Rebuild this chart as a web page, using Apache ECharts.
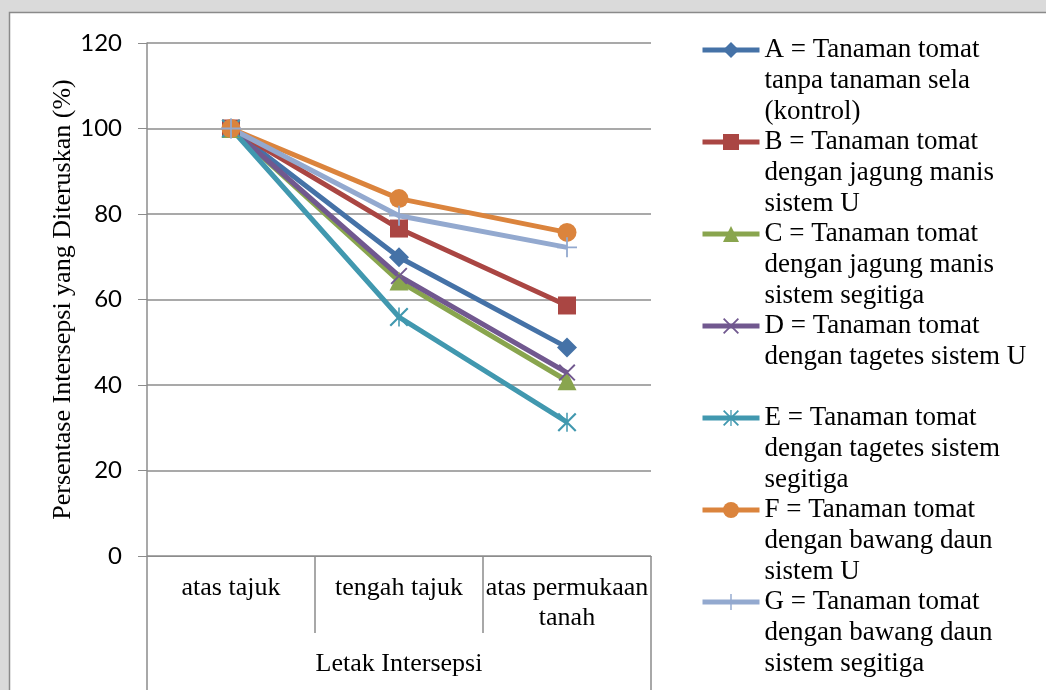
<!DOCTYPE html>
<html>
<head>
<meta charset="utf-8">
<script src="https://cdn.jsdelivr.net/npm/echarts@6/dist/echarts.min.js"></script>
<style>
html,body{margin:0;padding:0;background:#dadada;}
#chart{width:1046px;height:690px;}
</style>
</head>
<body>
<div id="chart"></div>
<script>
const categories = ['atas tajuk', 'tengah tajuk', 'atas permukaan\ntanah'];
const groupCategory = ['Letak Intersepsi'];
const yTicks = { min: 0, max: 120, interval: 20 };

const seriesKeys = ['A', 'B', 'C', 'D', 'E', 'F', 'G'];
const legendLabels = [
  'A = Tanaman tomat\ntanpa tanaman sela\n(kontrol)',
  'B = Tanaman tomat\ndengan jagung manis\nsistem U',
  'C = Tanaman tomat\ndengan jagung manis\nsistem segitiga',
  'D = Tanaman tomat\ndengan tagetes sistem U\n ',
  'E = Tanaman tomat\ndengan tagetes sistem\nsegitiga',
  'F = Tanaman tomat\ndengan bawang daun\nsistem U',
  'G = Tanaman tomat\ndengan bawang daun\nsistem segitiga'
];

const valuesA = [100, 69.9, 48.8];
const valuesB = [100, 76.6, 58.6];
const valuesC = [100, 64.3, 41.0];
const valuesD = [100, 65.5, 42.9];
const valuesE = [100, 55.9, 31.3];
const valuesF = [100, 83.6, 75.7];
const valuesG = [100, 79.6, 72.2];

const colors = ['#4572A7', '#AA4643', '#89A54E', '#71588F', '#4198AF', '#DB843D', '#93A9CF'];

const xPath = 'path://M0,1.6 L1.6,0 L10,8.4 L18.4,0 L20,1.6 L11.6,10 L20,18.4 L18.4,20 L10,11.6 L1.6,20 L0,18.4 L8.4,10 Z';
const starPath = 'path://M0,1.6 L1.6,0 L10,8.4 L18.4,0 L20,1.6 L11.6,10 L20,18.4 L18.4,20 L10,11.6 L1.6,20 L0,18.4 L8.4,10 Z M9.2,0 L10.8,0 L10.8,20 L9.2,20 Z';
const plusPath = 'path://M9.1,0 L10.9,0 L10.9,9.1 L20,9.1 L20,10.9 L10.9,10.9 L10.9,20 L9.1,20 L9.1,10.9 L0,10.9 L0,9.1 L9.1,9.1 Z';

const symbols = ['diamond', 'rect', 'triangle', xPath, starPath, 'circle', plusPath];
const symbolSizes = [20, 18, 19, 17, 19, 19, 20];
const allValues = [valuesA, valuesB, valuesC, valuesD, valuesE, valuesF, valuesG];

const serif = 'Liberation Serif';
const gridColor = '#8c8c8c';

const chart = echarts.init(document.getElementById('chart'), null, { renderer: 'canvas' });

const series = seriesKeys.map((k, i) => ({
  name: k,
  type: 'line',
  data: allValues[i],
  symbol: symbols[i],
  symbolSize: symbolSizes[i],
  showAllSymbol: true,
  color: colors[i],
  lineStyle: { width: 5, color: colors[i] },
  itemStyle: { color: colors[i], borderWidth: 0 },
  emphasis: { disabled: true },
  xAxisIndex: 0,
  yAxisIndex: 0
}));

chart.setOption({
  backgroundColor: '#dadada',
  animation: false,
  graphic: [{
    type: 'rect',
    z: -100,
    silent: true,
    shape: { x: 9.5, y: 12.5, width: 1100, height: 1000 },
    style: { fill: '#ffffff', stroke: '#8a8a8a', lineWidth: 1.5 }
  }],
  grid: { left: 147, top: 43, right: 395, bottom: 134, containLabel: false },
  legend: {
    orient: 'vertical',
    left: 700,
    top: -27.5,
    height: 1200,
    padding: 0,
    itemWidth: 57,
    itemHeight: 20,
    itemGap: -63,
    selectedMode: false,
    data: seriesKeys,
    lineStyle: { width: 5 },
    formatter: function (name) { return ' \n \n' + legendLabels[seriesKeys.indexOf(name)]; },
    textStyle: {
      fontFamily: serif,
      fontSize: 27,
      lineHeight: 31,
      color: '#000'
    }
  },
  xAxis: [{
    type: 'category',
    data: categories,
    position: 'bottom',
    boundaryGap: true,
    axisLine: { show: true, lineStyle: { color: gridColor, width: 1 } },
    axisTick: { show: true, interval: 0, length: 77, lineStyle: { color: gridColor, width: 1.5 } },
    axisLabel: { interval: 0, margin: 17, fontFamily: serif, fontSize: 26, lineHeight: 30, color: '#000' },
    splitLine: { show: false }
  }, {
    type: 'category',
    data: groupCategory,
    position: 'bottom',
    boundaryGap: true,
    axisLine: { show: false },
    axisTick: { show: true, length: 134, lineStyle: { color: gridColor, width: 1.5 } },
    axisLabel: { margin: 93, fontFamily: serif, fontSize: 26, lineHeight: 30, color: '#000' },
    splitLine: { show: false }
  }],
  yAxis: {
    type: 'value',
    min: yTicks.min,
    max: yTicks.max,
    interval: yTicks.interval,
    name: 'Persentase Intersepsi yang Diteruskan (%)',
    nameLocation: 'middle',
    nameRotate: 90,
    nameGap: 70,
    nameTextStyle: { fontFamily: serif, fontSize: 26, color: '#000' },
    axisLine: { show: true, lineStyle: { color: gridColor, width: 1.5 } },
    axisTick: { show: true, length: 9, lineStyle: { color: gridColor, width: 1 } },
    axisLabel: { margin: 25, fontFamily: 'Lato', fontSize: 24, color: '#000' },
    splitLine: { show: true, lineStyle: { color: gridColor, width: 1.5 } }
  },
  series: series
});
</script>
</body>
</html>
